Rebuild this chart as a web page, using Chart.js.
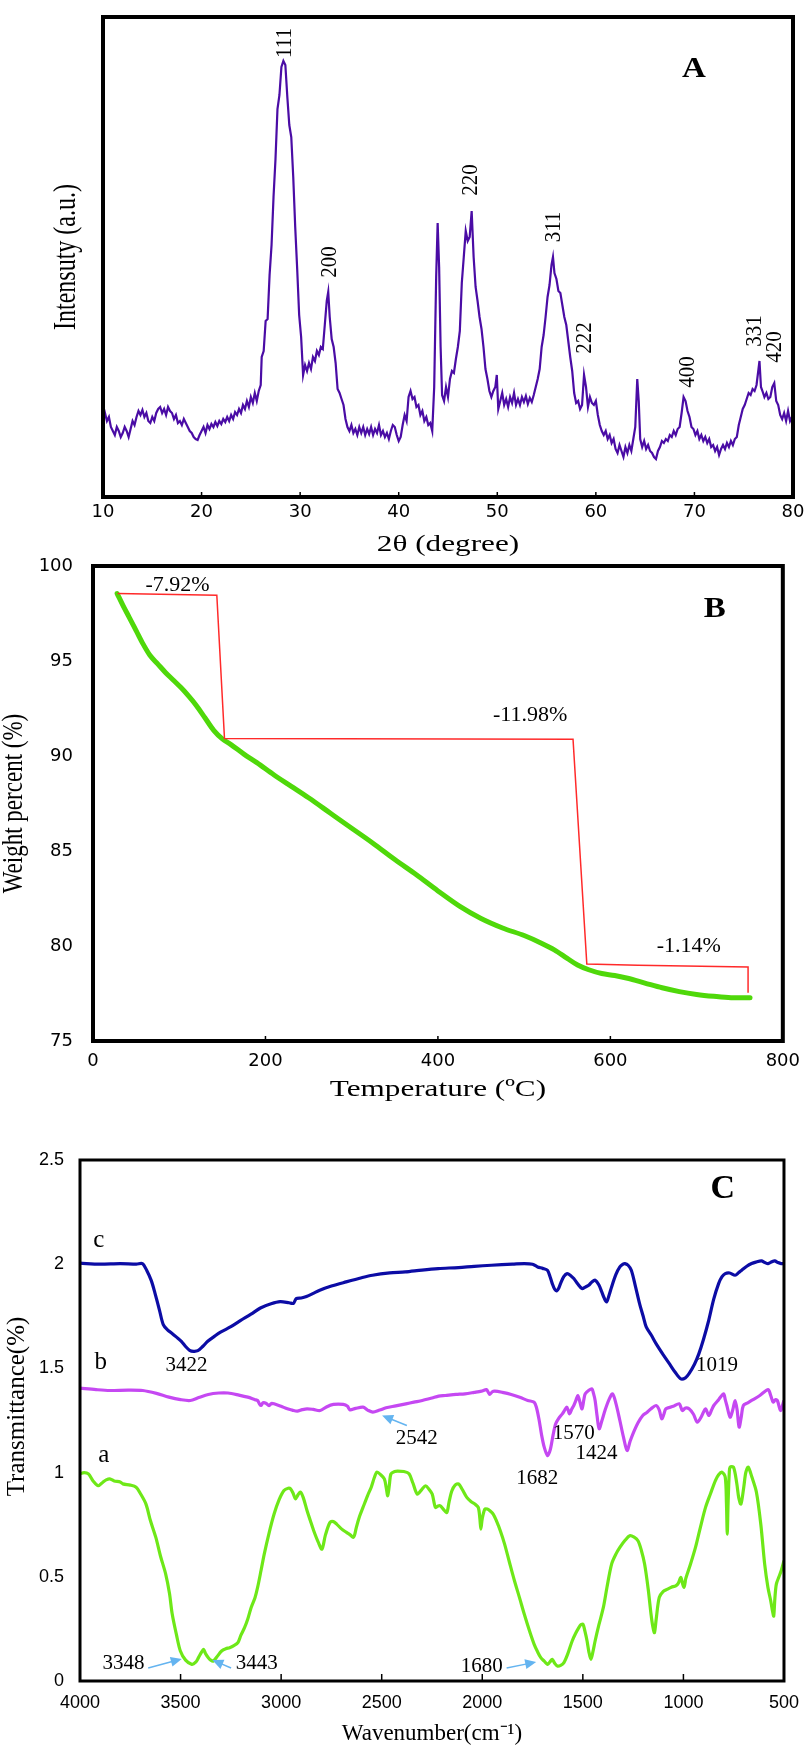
<!DOCTYPE html>
<html>
<head>
<meta charset="utf-8">
<title>XRD / TGA / FTIR</title>
<script src="https://cdn.jsdelivr.net/npm/chart.js@4/dist/chart.umd.min.js"></script>
<style>
  html, body { margin: 0; padding: 0; background: #fff; }
  #wrap { position: relative; width: 810px; height: 1746px; overflow: hidden; }
  #wrap canvas { position: absolute; left: 0; top: 0; }
</style>
</head>
<body>
<div id="wrap">
  <canvas id="xrdChart" width="810" height="1746"></canvas>
  <canvas id="tgaChart" width="810" height="1746"></canvas>
  <canvas id="ftirChart" width="810" height="1746"></canvas>
</div>
<script>
// ---- Panel A: XRD pattern ----
const xrdAngle = [
  10.0,10.2,10.4,10.6,10.8,11.0,11.2,11.4,11.6,11.8,
  12.0,12.2,12.4,12.6,12.8,13.0,13.2,13.4,13.6,13.8,
  14.0,14.2,14.4,14.6,14.8,15.0,15.2,15.4,15.6,15.8,
  16.0,16.2,16.4,16.6,16.8,17.0,17.2,17.4,17.6,17.8,
  18.0,18.2,18.4,18.6,18.8,19.0,19.2,19.4,19.6,19.8,
  20.0,20.2,20.4,20.6,20.8,21.0,21.2,21.4,21.6,21.8,
  22.0,22.2,22.4,22.6,22.8,23.0,23.2,23.4,23.6,23.8,
  24.0,24.2,24.4,24.6,24.8,25.0,25.2,25.4,25.6,25.8,
  26.0,26.1,26.3,26.5,26.7,26.9,27.1,27.3,27.5,27.7,
  27.9,28.1,28.3,28.5,28.7,28.9,29.1,29.3,29.5,29.7,
  29.9,30.1,30.3,30.5,30.7,30.9,31.1,31.3,31.5,31.7,
  31.9,32.1,32.3,32.5,32.7,32.85,33.0,33.2,33.4,33.6,
  33.8,34.0,34.2,34.4,34.6,34.8,35.0,35.2,35.4,35.6,
  35.8,36.0,36.2,36.4,36.6,36.8,37.0,37.2,37.4,37.6,
  37.8,38.0,38.2,38.4,38.6,38.8,39.0,39.2,39.4,39.6,
  39.8,40.0,40.2,40.4,40.6,40.8,41.0,41.2,41.4,41.6,
  41.8,42.0,42.2,42.4,42.6,42.8,43.0,43.2,43.4,43.6,
  43.8,43.95,44.1,44.25,44.4,44.6,44.8,45.0,45.2,45.4,
  45.6,45.8,46.0,46.2,46.4,46.6,46.8,47.0,47.2,47.4,
  47.6,47.8,48.0,48.2,48.4,48.6,48.8,49.0,49.2,49.4,
  49.6,49.8,49.95,50.1,50.3,50.5,50.7,50.9,51.1,51.3,
  51.5,51.7,51.9,52.1,52.3,52.5,52.7,52.9,53.1,53.3,
  53.5,53.7,53.9,54.1,54.3,54.5,54.7,54.9,55.1,55.3,
  55.5,55.65,55.8,56.0,56.2,56.4,56.6,56.8,57.0,57.2,
  57.4,57.6,57.8,58.0,58.2,58.4,58.6,58.8,59.0,59.2,
  59.4,59.6,59.8,60.0,60.2,60.4,60.6,60.8,61.0,61.2,
  61.4,61.6,61.8,62.0,62.2,62.4,62.6,62.8,63.0,63.2,
  63.4,63.6,63.8,64.0,64.2,64.35,64.5,64.7,64.9,65.1,
  65.3,65.5,65.7,65.9,66.1,66.3,66.5,66.7,66.9,67.1,
  67.3,67.5,67.7,67.9,68.1,68.3,68.5,68.7,68.9,69.1,
  69.3,69.5,69.7,69.9,70.1,70.3,70.5,70.7,70.9,71.1,
  71.3,71.5,71.7,71.9,72.1,72.3,72.5,72.7,72.9,73.1,
  73.3,73.5,73.7,73.9,74.1,74.3,74.5,74.7,74.9,75.1,
  75.3,75.5,75.7,75.9,76.1,76.3,76.5,76.6,76.75,76.9,
  77.1,77.3,77.5,77.7,77.9,78.1,78.3,78.5,78.7,78.9,
  79.1,79.3,79.5,79.7,79.9,80.0
];
const xrdIntensity = [
  78,84,76,80,70,66,62,70,66,60,
  64,70,66,60,68,76,72,80,86,82,
  87,80,84,76,74,80,76,84,88,90,
  84,88,82,90,86,84,78,82,74,76,
  72,78,74,70,66,64,60,58,57,62,
  66,70,64,72,68,73,70,75,71,76,
  73,78,75,80,76,82,78,85,82,88,
  84,92,88,96,90,100,94,104,96,106,
  112,140,146,176,178,222,252,300,338,388,
  402,430,436,432,400,372,360,320,270,228,
  182,160,122,132,126,134,128,140,136,146,
  142,150,148,172,196,205,180,158,150,134,
  108,104,98,92,78,70,66,72,64,68,
  62,70,64,70,62,68,63,70,62,68,
  64,72,62,66,60,64,58,66,72,70,
  62,56,60,72,82,76,100,106,98,100,
  90,92,82,86,76,80,72,74,66,110,
  220,274,230,150,102,96,110,100,118,126,
  124,138,150,166,214,240,266,256,260,286,
  240,210,196,180,168,150,128,118,106,100,
  106,110,122,88,96,104,92,98,90,100,
  94,104,92,98,92,100,95,101,93,99,
  95,102,110,118,128,150,162,180,200,212,
  232,240,224,218,206,204,192,180,172,156,
  140,126,104,94,96,88,92,122,110,90,
  100,94,92,96,82,72,66,62,66,58,
  62,54,58,48,44,52,46,40,50,44,
  52,46,58,70,118,96,58,50,56,48,
  52,46,44,40,38,46,50,56,54,58,
  56,62,60,66,62,68,70,84,100,96,
  86,80,70,68,62,66,58,62,56,60,
  54,58,50,52,46,50,42,48,52,48,
  54,50,56,52,58,60,72,80,88,92,
  98,104,102,108,106,112,128,136,110,106,
  100,104,98,100,110,114,96,92,82,78,
  84,76,86,76,80,78
];
const xrdTicks = [10, 20, 30, 40, 50, 60, 70, 80];
const xrdPeakLabels = ["111", "200", "220", "311", "222", "400", "331", "420"];
const xrdPeakAngle = [28.46, 33.03, 47.33, 55.75, 58.9, 69.35, 76.15, 78.17];
const xrdPeakLevel = [454, 235, 317, 270, 159, 125, 166, 150];

// ---- Panel B: TGA curve ----
const tgaTemp = [28, 35, 42, 50, 58, 66, 75, 84, 93, 102, 111, 120, 130, 140, 150, 160, 175, 190,
  210, 230, 250, 275, 300, 325, 350, 375, 400, 425, 450, 475, 500, 520, 535, 550, 562, 575, 590,
  605, 620, 640, 660, 680, 700, 720, 740, 762];
const tgaWeight = [98.55, 97.9, 97.3, 96.6, 95.9, 95.3, 94.85, 94.4, 94.0, 93.6, 93.15, 92.65, 92.0,
  91.35, 90.9, 90.6, 90.1, 89.65, 89.0, 88.4, 87.8, 87.0, 86.2, 85.4, 84.55, 83.75, 82.9, 82.1,
  81.45, 80.95, 80.55, 80.15, 79.8, 79.35, 79.0, 78.75, 78.55, 78.45, 78.3, 78.05, 77.8, 77.6,
  77.45, 77.35, 77.28, 77.27];
const stepTemp = [28.5, 143.6, 152.5, 556.7, 572.7, 631.9, 759.7, 759.7];
const stepWeight = [98.55, 98.46, 90.92, 90.88, 79.05, 78.99, 78.9, 77.54];
const stepLabels = ["-7.92%", "-11.98%", "-1.14%"];
const stepLabelTemp = [98, 507, 691];
const stepLabelWeight = [99.0, 92.14, 80.0];
const tgaTempTicks = [0, 200, 400, 600, 800];
const tgaWeightTicks = [75, 80, 85, 90, 95, 100];

// ---- Panel C: FTIR spectra ----
const waveC = [4000, 3900, 3800, 3720, 3690, 3668, 3645, 3627, 3605, 3586, 3565, 3545, 3520, 3496,
  3475, 3455, 3435, 3414, 3390, 3365, 3330, 3299, 3250, 3201, 3150, 3103, 3050, 3005, 2960, 2939,
  2925, 2900, 2874, 2840, 2808, 2750, 2677, 2600, 2546, 2460, 2383, 2300, 2219, 2118, 2040, 1955,
  1850, 1791, 1750, 1725, 1700, 1676, 1663, 1652, 1640, 1630, 1620, 1611, 1595, 1578, 1560, 1545,
  1525, 1504, 1488, 1471, 1455, 1439, 1420, 1406, 1395, 1382, 1370, 1357, 1336, 1316, 1300, 1291,
  1275, 1259, 1240, 1218, 1200, 1185, 1160, 1136, 1100, 1070, 1040, 1013, 990, 972, 945, 923, 900,
  874, 850, 825, 808, 792, 770, 743, 725, 710, 685, 661, 640, 612, 595, 579, 560, 546, 530, 514, 500];
const transC = [2.005, 2.0, 2.003, 2.0, 2.003, 1.97, 1.92, 1.86, 1.78, 1.71, 1.685, 1.67, 1.65, 1.63,
  1.605, 1.587, 1.582, 1.585, 1.605, 1.63, 1.655, 1.675, 1.7, 1.73, 1.76, 1.79, 1.81, 1.82, 1.815, 1.812,
  1.835, 1.838, 1.845, 1.86, 1.875, 1.895, 1.915, 1.935, 1.947, 1.958, 1.963, 1.972, 1.979, 1.984,
  1.99, 1.995, 2.0, 2.003, 2.0, 1.987, 1.98, 1.971, 1.94, 1.907, 1.88, 1.872, 1.885, 1.907, 1.94,
  1.955, 1.945, 1.931, 1.905, 1.883, 1.89, 1.899, 1.915, 1.923, 1.9, 1.867, 1.84, 1.819, 1.85, 1.891,
  1.95, 1.987, 2.0, 2.003, 1.995, 1.971, 1.9, 1.811, 1.75, 1.699, 1.66, 1.619, 1.565, 1.523, 1.48,
  1.45, 1.455, 1.475, 1.52, 1.571, 1.64, 1.731, 1.83, 1.907, 1.94, 1.955, 1.958, 1.947, 1.96, 1.971,
  1.99, 2.003, 2.01, 2.016, 2.008, 2.003, 2.012, 2.016, 2.008, 2.003, 2.003];

const waveB = [4000, 3920, 3852, 3760, 3688, 3620, 3558, 3500, 3452, 3410, 3362, 3310, 3264, 3210,
  3166, 3130, 3117, 3108, 3100, 3090, 3076, 3060, 3048, 3035, 3000, 2969, 2945, 2920, 2895, 2871,
  2840, 2806, 2775, 2740, 2691, 2670, 2658, 2630, 2593, 2570, 2544, 2510, 2478, 2430, 2380, 2340,
  2298, 2250, 2217, 2184, 2130, 2086, 2040, 2004, 1979, 1970, 1963, 1950, 1938, 1900, 1856, 1810,
  1774, 1742, 1730, 1717, 1705, 1692, 1676, 1665, 1659, 1648, 1635, 1620, 1602, 1590, 1580, 1573,
  1566, 1555, 1545, 1535, 1525, 1515, 1504, 1495, 1488, 1470, 1455, 1447, 1439, 1429, 1419, 1405,
  1390, 1370, 1352, 1335, 1316, 1298, 1280, 1265, 1251, 1225, 1202, 1180, 1161, 1136, 1120, 1108,
  1097, 1087, 1050, 1021, 1005, 990, 972, 950, 931, 910, 890, 874, 860, 849, 825, 800, 792, 784,
  768, 755, 743, 733, 723, 712, 702, 680, 661, 620, 579, 566, 554, 543, 533, 517, 505, 500];
const transB = [1.405, 1.398, 1.394, 1.396, 1.394, 1.38, 1.362, 1.35, 1.346, 1.36, 1.375, 1.382,
  1.382, 1.372, 1.362, 1.35, 1.346, 1.33, 1.322, 1.335, 1.333, 1.321, 1.332, 1.33, 1.318, 1.306, 1.3,
  1.295, 1.302, 1.306, 1.303, 1.298, 1.315, 1.327, 1.327, 1.318, 1.301, 1.308, 1.314, 1.3, 1.29, 1.3,
  1.311, 1.32, 1.33, 1.338, 1.346, 1.358, 1.367, 1.37, 1.375, 1.378, 1.385, 1.391, 1.398, 1.385, 1.375,
  1.388, 1.391, 1.385, 1.375, 1.36, 1.346, 1.338, 1.31, 1.25, 1.18, 1.122, 1.082, 1.1, 1.122, 1.18,
  1.234, 1.26, 1.282, 1.3, 1.314, 1.3, 1.282, 1.305, 1.322, 1.345, 1.37, 1.34, 1.306, 1.35, 1.378,
  1.395, 1.402, 1.38, 1.346, 1.27, 1.21, 1.25, 1.298, 1.35, 1.378, 1.33, 1.25, 1.17, 1.106, 1.15, 1.186,
  1.24, 1.274, 1.29, 1.306, 1.322, 1.3, 1.258, 1.28, 1.306, 1.318, 1.33, 1.298, 1.31, 1.306, 1.28,
  1.242, 1.27, 1.306, 1.274, 1.3, 1.322, 1.35, 1.378, 1.35, 1.322, 1.266, 1.3, 1.346, 1.3, 1.218,
  1.27, 1.322, 1.335, 1.346, 1.37, 1.398, 1.37, 1.338, 1.35, 1.346, 1.298, 1.33, 1.346];

const waveA = [4000, 3980, 3958, 3935, 3909, 3885, 3870, 3852, 3830, 3800, 3787, 3750, 3721, 3700,
  3672, 3650, 3623, 3600, 3574, 3555, 3542, 3520, 3501, 3475, 3444, 3425, 3411, 3395, 3386, 3375,
  3362, 3350, 3337, 3320, 3296, 3275, 3256, 3235, 3215, 3200, 3182, 3165, 3149, 3130, 3117, 3100,
  3084, 3060, 3035, 3010, 2986, 2965, 2953, 2940, 2929, 2915, 2904, 2890, 2871, 2855, 2838, 2815,
  2797, 2780, 2757, 2740, 2724, 2700, 2675, 2655, 2642, 2635, 2626, 2610, 2593, 2570, 2552, 2537,
  2524, 2505, 2487, 2478, 2470, 2462, 2454, 2435, 2421, 2390, 2364, 2345, 2323, 2300, 2282, 2265,
  2249, 2233, 2220, 2209, 2190, 2176, 2165, 2151, 2135, 2118, 2100, 2077, 2055, 2037, 2020, 2012,
  2007, 2000, 1987, 1975, 1962, 1945, 1930, 1910, 1889, 1865, 1840, 1815, 1791, 1765, 1742, 1725,
  1709, 1692, 1676, 1665, 1652, 1640, 1627, 1610, 1594, 1575, 1553, 1535, 1520, 1510, 1499, 1490,
  1479, 1470, 1460, 1450, 1439, 1420, 1398, 1380, 1357, 1335, 1316, 1290, 1267, 1245, 1226, 1210,
  1193, 1175, 1161, 1152, 1144, 1135, 1120, 1100, 1079, 1060, 1038, 1025, 1013, 1005, 997, 992, 989,
  965, 940, 915, 890, 865, 841, 825, 808, 792, 786, 782, 778, 772, 768, 751, 735, 725, 714, 700, 690,
  678, 660, 637, 615, 596, 580, 566, 556, 551, 545, 538, 525, 514, 500];
const transA = [0.994, 1.0, 0.994, 0.96, 0.937, 0.955, 0.965, 0.97, 0.96, 0.955, 0.946, 0.94, 0.93,
  0.9, 0.849, 0.77, 0.689, 0.6, 0.513, 0.42, 0.324, 0.22, 0.144, 0.1, 0.08, 0.09, 0.112, 0.14, 0.152,
  0.13, 0.112, 0.1, 0.096, 0.115, 0.144, 0.155, 0.16, 0.17, 0.184, 0.22, 0.256, 0.3, 0.353, 0.4, 0.449,
  0.53, 0.609, 0.71, 0.801, 0.87, 0.914, 0.925, 0.922, 0.9, 0.874, 0.895, 0.906, 0.88, 0.817, 0.77,
  0.721, 0.665, 0.633, 0.7, 0.761, 0.765, 0.753, 0.73, 0.713, 0.7, 0.689, 0.7, 0.737, 0.79, 0.833,
  0.89, 0.93, 0.975, 1.002, 0.99, 0.97, 0.93, 0.889, 0.94, 0.994, 1.005, 1.007, 1.005, 0.994, 0.95,
  0.897, 0.92, 0.937, 0.92, 0.897, 0.833, 0.84, 0.841, 0.82, 0.809, 0.86, 0.913, 0.94, 0.946, 0.92,
  0.881, 0.86, 0.849, 0.833, 0.78, 0.729, 0.78, 0.825, 0.825, 0.817, 0.8, 0.769, 0.72, 0.657, 0.57,
  0.481, 0.4, 0.32, 0.24, 0.176, 0.14, 0.112, 0.095, 0.08, 0.09, 0.104, 0.085, 0.072, 0.075, 0.088,
  0.13, 0.192, 0.23, 0.256, 0.27, 0.272, 0.24, 0.192, 0.14, 0.104, 0.14, 0.192, 0.27, 0.353, 0.45,
  0.561, 0.61, 0.641, 0.675, 0.697, 0.69, 0.673, 0.63, 0.561, 0.44, 0.32, 0.26, 0.232, 0.3, 0.401,
  0.43, 0.441, 0.45, 0.457, 0.47, 0.497, 0.47, 0.449, 0.47, 0.489, 0.56, 0.641, 0.74, 0.833, 0.9,
  0.962, 0.99, 1.002, 0.978, 0.85, 0.705, 0.85, 1.0, 1.026, 1.026, 0.95, 0.88, 0.849, 0.93, 1.0,
  1.026, 0.98, 0.906, 0.75, 0.561, 0.45, 0.385, 0.33, 0.312, 0.4, 0.465, 0.5, 0.529, 0.577];
const ftirWaveTicks = [4000, 3500, 3000, 2500, 2000, 1500, 1000, 500];
const ftirTransTicks = [0, 0.5, 1, 1.5, 2, 2.5];
const ftirCurveNames = ["c", "b", "a"];
const ftirCurveNameWave = [3907, 3897, 3882];
const ftirCurveNameTrans = [2.115, 1.529, 1.082];
const ftirLabels = ["3422", "2542", "3348", "3443", "1680", "1682", "1570", "1424", "1019"];
const ftirLabelWave = [3470, 2326, 3784, 3121, 2002, 1727, 1545, 1432, 833];
const ftirLabelTrans = [1.514, 1.163, 0.082, 0.082, 0.072, 0.971, 1.188, 1.091, 1.514];
// arrows: [fromWave, fromTrans, toWave, toTrans]
const ftirArrows = [
  [2375, 1.226, 2498, 1.274],
  [3661, 0.0625, 3494, 0.106],
  [3249, 0.0625, 3342, 0.101],
  [1879, 0.0625, 1732, 0.091]
];

const toPoints = (xs, ys) => xs.map((x, i) => ({ x: x, y: ys[i] }));
const serif = "'Liberation Serif', 'Times New Roman', serif";
const tickFontAB = { family: "'DejaVu Sans', sans-serif", size: 18 };
const tickFontC = { family: "'Liberation Sans', Arial, sans-serif", size: 18 };

Chart.defaults.color = "#000";
Chart.defaults.animation = false;
Chart.defaults.plugins.legend.display = false;
Chart.defaults.plugins.tooltip.enabled = false;
Chart.defaults.elements.point.radius = 0;

// Frame, inner tick marks, axis titles, notes and arrows for one panel.
// The settings stay in a closure so Chart.js does not resolve them as options.
function makeDecor(cfg) {
  return {
    id: "panelDecor",
    afterDatasetsDraw(chart) {
      const { ctx, chartArea: a, scales } = chart;
      ctx.save();
      ctx.strokeStyle = "#000";
      ctx.lineWidth = 1.5;
      scales.x.ticks.forEach((t) => {
        const px = scales.x.getPixelForValue(t.value);
        if (px <= a.left + 3 || px >= a.right - 3) {
          return;
        }
        ctx.beginPath();
        ctx.moveTo(px, a.bottom);
        ctx.lineTo(px, a.bottom - cfg.tickLen);
        ctx.stroke();
      });
      ctx.lineWidth = cfg.frame;
      ctx.strokeRect(a.left, a.top, a.right - a.left, a.bottom - a.top);

      (cfg.arrows || []).forEach((ar) => {
        const x1 = scales.x.getPixelForValue(ar[0]);
        const y1 = scales.y.getPixelForValue(ar[1]);
        const x2 = scales.x.getPixelForValue(ar[2]);
        const y2 = scales.y.getPixelForValue(ar[3]);
        const ang = Math.atan2(y2 - y1, x2 - x1);
        const c = Math.cos(ang);
        const s = Math.sin(ang);
        ctx.strokeStyle = "#64b4f0";
        ctx.fillStyle = "#64b4f0";
        ctx.lineWidth = 1.5;
        ctx.beginPath();
        ctx.moveTo(x1, y1);
        ctx.lineTo(x2 - 8 * c, y2 - 8 * s);
        ctx.stroke();
        ctx.beginPath();
        ctx.moveTo(x2, y2);
        ctx.lineTo(x2 - 11 * c + 5 * s, y2 - 11 * s - 5 * c);
        ctx.lineTo(x2 - 11 * c - 5 * s, y2 - 11 * s + 5 * c);
        ctx.closePath();
        ctx.fill();
      });

      const drawText = (text, x, y, font, sx, rotate) => {
        ctx.save();
        ctx.translate(x, y);
        ctx.scale(sx || 1, 1);
        if (rotate) {
          ctx.rotate(rotate * Math.PI / 180);
        }
        ctx.font = font || cfg.font;
        ctx.fillText(text, 0, 0);
        ctx.restore();
      };
      ctx.fillStyle = "#000";
      ctx.textAlign = "center";
      ctx.textBaseline = "middle";
      (cfg.notes || []).forEach((n) => {
        drawText(n.text, scales.x.getPixelForValue(n.x), scales.y.getPixelForValue(n.y), n.font, n.sx, n.rotate);
      });
      // axis titles, placed relative to the plot frame
      (cfg.titles || []).forEach((t) => {
        if (t.side === "left") {
          drawText(t.text, t.pos, (a.top + a.bottom) / 2 + (t.dy || 0), t.font, t.sx, -90);
        } else {
          drawText(t.text, (a.left + a.right) / 2, t.pos, t.font, t.sx, 0);
        }
      });
      ctx.restore();
    }
  };
}

const fixWidth = (w) => (s) => { s.width = w; };
const fixHeight = (h) => (s) => { s.height = h; };
const useTicks = (vals) => (s) => { s.ticks = vals.map((v) => ({ value: v })); };
const noGrid = { display: false, drawTicks: false };

// Panel A
const xrdNotes = xrdPeakLabels.map((t, i) => ({
  text: t, x: xrdPeakAngle[i], y: xrdPeakLevel[i], rotate: -90, sx: 1.12
}));
xrdNotes.push({ text: "A", x: 69.96, y: 428, font: "bold 30px " + serif, sx: 1.1 });

new Chart(document.getElementById("xrdChart"), {
  type: "scatter",
  data: {
    datasets: [{
      data: toPoints(xrdAngle, xrdIntensity),
      showLine: true,
      borderColor: "#4a0ca5",
      borderWidth: 2.2,
      tension: 0
    }]
  },
  options: {
    responsive: false,
    layout: { padding: { left: 55, top: 17, right: 17, bottom: 1190 } },
    scales: {
      x: {
        type: "linear", min: 10, max: 80,
        afterBuildTicks: useTicks(xrdTicks),
        afterFit: fixHeight(59),
        grid: noGrid,
        border: { display: false },
        ticks: { font: tickFontAB, padding: 5, maxRotation: 0 }
      },
      y: {
        min: 0, max: 480,
        afterFit: fixWidth(48),
        grid: noGrid,
        border: { display: false },
        ticks: { display: false }
      }
    }
  },
  plugins: [makeDecor({
    frame: 4, tickLen: 5, font: "21px " + serif, notes: xrdNotes,
    titles: [
      { text: "2θ (degree)", side: "bottom", pos: 545, font: "24px " + serif, sx: 1.3 },
      { text: "Intensuty (a.u.)", side: "left", pos: 67, font: "24px " + serif, sx: 1.3 }
    ]
  })]
});

// Panel B
const tgaNotes = stepLabels.map((t, i) => ({ text: t, x: stepLabelTemp[i], y: stepLabelWeight[i] }));
tgaNotes.push({ text: "B", x: 721, y: 97.7, font: "bold 30px " + serif, sx: 1.1 });

new Chart(document.getElementById("tgaChart"), {
  type: "scatter",
  data: {
    datasets: [
      {
        data: toPoints(stepTemp, stepWeight),
        showLine: true,
        borderColor: "#ff2a2a",
        borderWidth: 1.5,
        tension: 0
      },
      {
        data: toPoints(tgaTemp, tgaWeight),
        showLine: true,
        borderColor: "#4fd80a",
        borderWidth: 5,
        cubicInterpolationMode: "monotone",
        borderCapStyle: "round"
      }
    ]
  },
  options: {
    responsive: false,
    layout: { padding: { left: 2, top: 566, right: 24, bottom: 645 } },
    scales: {
      x: {
        type: "linear", min: 0, max: 800,
        afterBuildTicks: useTicks(tgaTempTicks),
        afterFit: fixHeight(60),
        grid: noGrid,
        border: { display: false },
        ticks: { font: tickFontAB, padding: 10, maxRotation: 0 }
      },
      y: {
        min: 75, max: 100,
        afterBuildTicks: useTicks(tgaWeightTicks),
        afterFit: fixWidth(91),
        grid: noGrid,
        border: { display: false },
        ticks: { font: tickFontAB, padding: 20 }
      }
    }
  },
  plugins: [makeDecor({
    frame: 4, tickLen: 5, font: "22px " + serif, notes: tgaNotes,
    titles: [
      { text: "Temperature (ºC)", side: "bottom", pos: 1090, font: "24px " + serif, sx: 1.3 },
      { text: "Weight percent (%)", side: "left", pos: 14, font: "23px " + serif, sx: 1.3 }
    ]
  })]
});

// Panel C
const ftirNotes = ftirLabels.map((t, i) => ({ text: t, x: ftirLabelWave[i], y: ftirLabelTrans[i] }));
ftirCurveNames.forEach((t, i) => {
  ftirNotes.push({ text: t, x: ftirCurveNameWave[i], y: ftirCurveNameTrans[i], font: "25px " + serif });
});
ftirNotes.push({ text: "C", x: 804, y: 2.36, font: "bold 34px " + serif });

new Chart(document.getElementById("ftirChart"), {
  type: "scatter",
  data: {
    datasets: [
      { data: toPoints(waveC, transC), showLine: true, borderColor: "#0c0ca5", borderWidth: 3.2, tension: 0.3 },
      { data: toPoints(waveB, transB), showLine: true, borderColor: "#c548f2", borderWidth: 3.2, tension: 0.3 },
      { data: toPoints(waveA, transA), showLine: true, borderColor: "#6ee818", borderWidth: 3.2, tension: 0.3 }
    ]
  },
  options: {
    responsive: false,
    layout: { padding: { left: 6, top: 1160, right: 17, bottom: 0 } },
    scales: {
      x: {
        type: "linear", min: 500, max: 4000, reverse: true,
        afterBuildTicks: useTicks(ftirWaveTicks),
        afterFit: fixHeight(65),
        grid: noGrid,
        border: { display: false },
        ticks: { font: tickFontC, padding: 11, maxRotation: 0, callback: (v) => String(v) }
      },
      y: {
        min: 0, max: 2.5,
        afterBuildTicks: useTicks(ftirTransTicks),
        afterFit: fixWidth(74),
        grid: noGrid,
        border: { display: false },
        ticks: { font: tickFontC, padding: 16, callback: (v) => String(v) }
      }
    }
  },
  plugins: [makeDecor({
    frame: 3, tickLen: 7, font: "21px " + serif, notes: ftirNotes, arrows: ftirArrows,
    titles: [
      { text: "Wavenumber(cm⁻¹)", side: "bottom", pos: 1734, font: "23px " + serif },
      { text: "Transmittance(%)", side: "left", pos: 17, dy: -14, font: "25px " + serif }
    ]
  })]
});
</script>
</body>
</html>
